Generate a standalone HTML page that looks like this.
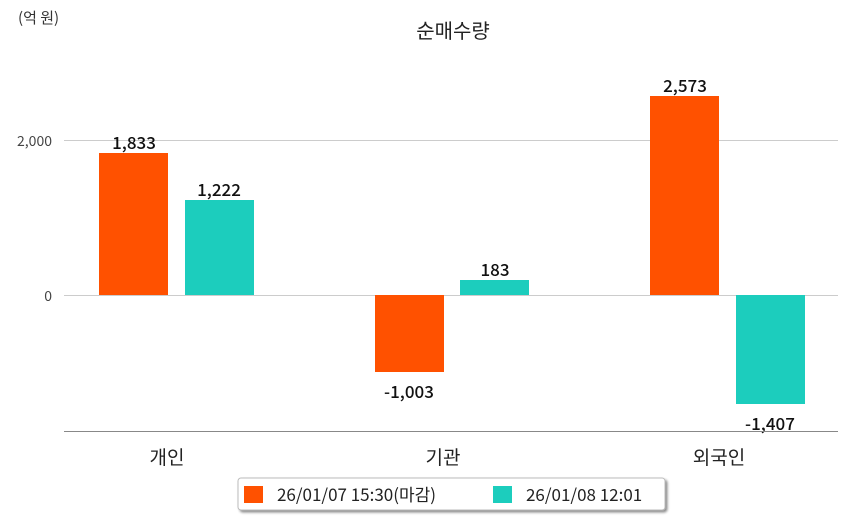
<!DOCTYPE html>
<html><head><meta charset="utf-8"><style>
html,body{margin:0;padding:0;background:#fff;}
svg{display:block;font-family:"Noto Sans CJK KR","Liberation Sans",sans-serif;}
</style></head><body>
<svg width="849" height="520" viewBox="0 0 849 520" xmlns="http://www.w3.org/2000/svg">
<defs><filter id="sh" x="-5%" y="-20%" width="110%" height="150%"><feDropShadow dx="2" dy="2" stdDeviation="1.2" flood-color="#000" flood-opacity="0.45"/></filter></defs>
<text x="18" y="23" font-size="15" fill="#333">(억 원)</text>
<text x="453" y="38" font-size="20" fill="#222" text-anchor="middle">순매수량</text>
<line x1="64" y1="140.5" x2="838" y2="140.5" stroke="#ccc"/>
<line x1="64" y1="295.5" x2="838" y2="295.5" stroke="#ccc"/>
<text x="52" y="146" font-size="14" fill="#444" text-anchor="end">2,000</text>
<text x="52" y="301" font-size="14" fill="#444" text-anchor="end">0</text>
<rect x="99" y="153" width="69" height="142" fill="#ff5100"/>
<rect x="185" y="200" width="69" height="95" fill="#1ccdbd"/>
<rect x="375" y="295" width="69" height="77" fill="#ff5100"/>
<rect x="460" y="280" width="69" height="15" fill="#1ccdbd"/>
<rect x="650" y="96" width="69" height="199" fill="#ff5100"/>
<rect x="736" y="295" width="69" height="109" fill="#1ccdbd"/>
<g font-size="17" font-weight="500" fill="#111" text-anchor="middle">
<text x="134" y="149">1,833</text>
<text x="219" y="196">1,222</text>
<text x="409" y="398">-1,003</text>
<text x="495" y="276">183</text>
<text x="685" y="92">2,573</text>
<text x="770" y="430">-1,407</text>
</g>
<line x1="64" y1="431.5" x2="838" y2="431.5" stroke="#888"/>
<g font-size="19" fill="#222" text-anchor="middle">
<text x="167" y="464">개인</text>
<text x="443" y="464">기관</text>
<text x="719" y="464">외국인</text>
</g>
<rect x="238" y="478" width="427" height="32" rx="3" fill="#fff" stroke="#bbb" filter="url(#sh)"/>
<rect x="244" y="486" width="19" height="17" fill="#ff5100"/>
<text x="277" y="501" font-size="17" fill="#222">26/01/07 15:30(마감)</text>
<rect x="493" y="486" width="19" height="17" fill="#1ccdbd"/>
<text x="526" y="501" font-size="17" fill="#222">26/01/08 12:01</text>
</svg>
</body></html>
